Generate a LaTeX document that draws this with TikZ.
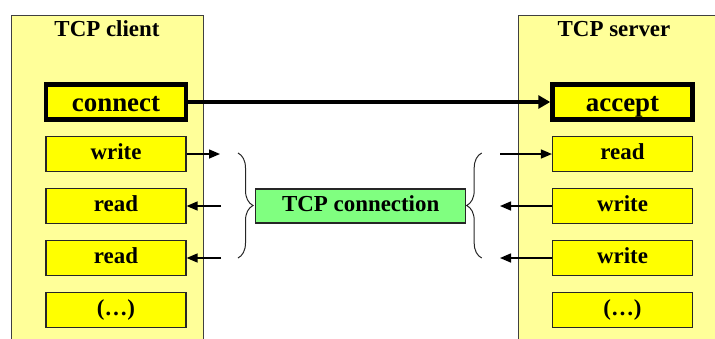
\documentclass[tikz,border=0pt]{standalone}
\usepackage{fontspec}
\setmainfont{Liberation Serif}
\newfontfamily\timesbf{Liberation Serif}[BoldFont={* Bold}]
\usetikzlibrary{positioning,arrows.meta,decorations.pathreplacing}
\definecolor{panelyellow}{HTML}{FFFF99}
\definecolor{boxyellow}{HTML}{FFFF00}
\definecolor{linkgreen}{HTML}{80FF80}

\begin{document}
\begin{tikzpicture}[
  x=1bp, y=-1bp,
  every node/.style={font=\timesbf\fontsize{23}{27}\selectfont\bfseries},
  panel/.style={draw=black!75, fill=panelyellow, line width=1bp, anchor=north west,
                minimum width=192bp, minimum height=340bp, inner sep=0pt},
  op/.style={draw=black!85, fill=boxyellow, line width=1.2bp, minimum width=140bp,
             minimum height=35bp, inner sep=0pt, text height=15.6bp, text depth=3.7bp},
  bigop/.style={op, line width=4.5bp, draw=black,
                font=\timesbf\fontsize{27}{31}\selectfont\bfseries, text height=19bp, text depth=0bp},
  link/.style={op, fill=linkgreen, minimum width=210bp, minimum height=34bp},
  arr/.style={-{Triangle[length=11bp,width=9bp]}, line width=1.5bp},
  bigarr/.style={-{Triangle[length=12bp,width=13bp]}, line width=4bp},
  brc/.style={decorate, decoration={brace, amplitude=15bp}, line width=1bp, draw=black!85},
]
\useasboundingbox (0,0) rectangle (715,338);
\clip (0,0) rectangle (715,338);
% ---- the two panels ----
\node[panel] (client) at (11,14.5) {};
\node[panel, minimum width=220bp] (server) at (517.7,14.5) {};
\node[anchor=base] (clientlbl) at (107,36.5) {TCP client};
\node[anchor=base] (serverlbl) at (614,36.5) {TCP server};
% ---- client column ----
\node[bigop] at (116,102) (connect) {connect};
\node[op] at (116,154) (cwrite) {write};
\node[op] at (116,206) (cread1) {read};
\node[op] at (116,258) (cread2) {read};
\node[op] at (116,310) (cmore)  {(\ldots)};
% ---- server column ----
\node[bigop] at (622.5,102) (accept) {accept};
\node[op] at (622.5,154) (sread)   {read};
\node[op] at (622.5,206) (swrite1) {write};
\node[op] at (622.5,258) (swrite2) {write};
\node[op] at (622.5,310) (smore)   {(\ldots)};
% ---- connection in the middle ----
\node[link] at (360.7,206) (tcpconn) {TCP connection};
\coordinate (lw) at (220,154);
\coordinate (lr1) at (221,206);
\coordinate (lr2) at (221,258);
\coordinate (rr) at (500,154);
\coordinate (rw1) at (500,206);
\coordinate (rw2) at (500,258);
\coordinate (lbtop) at (238,153);
\coordinate (lbbot) at (238,258);
\coordinate (rbtop) at (481.7,153);
\coordinate (rbbot) at (481.7,258);
\draw[brc] (lbtop) -- (lbbot);
\draw[brc] (rbbot) -- (rbtop);
% ---- arrows ----
\draw[bigarr] (connect.east) -- (accept.west);
\draw[arr] (cwrite.east) -- (lw);
\draw[arr] (lr1) -- (cread1.east);
\draw[arr] (lr2) -- (cread2.east);
\draw[arr] (rr) -- (sread.west);
\draw[arr] (swrite1.west) -- (rw1);
\draw[arr] (swrite2.west) -- (rw2);
\end{tikzpicture}
\end{document}
